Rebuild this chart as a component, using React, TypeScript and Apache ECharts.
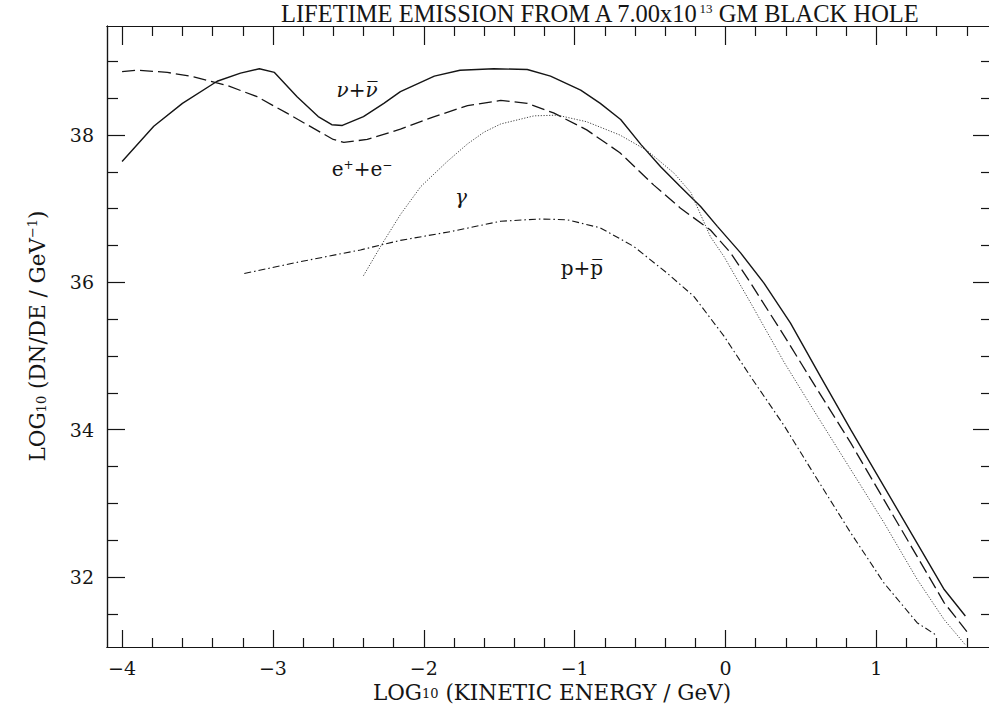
import React, { useEffect, useRef } from "react";
import * as echarts from "echarts";

// ---- axis ranges and ticks ----
const xMin = -4.1;
const xMax = 1.76;
const yMin = 31.05;
const yMax = 39.48;
const xMajorTicks = [-4, -3, -2, -1, 0, 1];
const xMinorTicks = [-3.8, -3.6, -3.4, -3.2, -2.8, -2.6, -2.4, -2.2, -1.8, -1.6, -1.4, -1.2, -0.8, -0.6, -0.4, -0.2, 0.2, 0.4, 0.6, 0.8, 1.2, 1.4, 1.6];
const yMajorTicks = [32, 34, 36, 38];
const yMinorTicks = [31.5, 32.5, 33, 33.5, 34.5, 35, 35.5, 36.5, 37, 37.5, 38.5, 39];

// ---- series data: [log10 kinetic energy, log10 dN/dE] ----
const neutrinoX = [-4.0, -3.79, -3.6, -3.37, -3.215, -3.09, -2.99, -2.84, -2.7, -2.61, -2.54, -2.4, -2.265, -2.155, -1.93, -1.76, -1.536, -1.314, -1.16, -0.96, -0.83, -0.695, -0.56, -0.43, -0.3, -0.165, -0.054, 0.1, 0.255, 0.43, 0.63, 0.83, 1.05, 1.27, 1.45, 1.59];
const neutrinoY = [37.64, 38.12, 38.43, 38.73, 38.84, 38.9, 38.85, 38.52, 38.25, 38.14, 38.13, 38.25, 38.43, 38.59, 38.8, 38.88, 38.9, 38.89, 38.8, 38.61, 38.43, 38.21, 37.87, 37.57, 37.3, 37.03, 36.76, 36.4, 35.99, 35.45, 34.72, 34.0, 33.23, 32.46, 31.83, 31.47];

const electronX = [-4.0, -3.9, -3.7, -3.525, -3.3, -3.105, -2.91, -2.73, -2.6, -2.53, -2.375, -2.155, -1.93, -1.71, -1.49, -1.314, -1.14, -0.92, -0.7, -0.475, -0.3, -0.1, 0.034, 0.167, 0.39, 0.61, 0.83, 1.05, 1.27, 1.45, 1.6];
const electronY = [38.86, 38.88, 38.85, 38.79, 38.67, 38.52, 38.3, 38.09, 37.94, 37.9, 37.94, 38.08, 38.25, 38.4, 38.47, 38.43, 38.3, 38.07, 37.76, 37.32, 37.01, 36.71, 36.4, 35.99, 35.27, 34.54, 33.82, 33.05, 32.28, 31.65, 31.26];

const photonX = [-2.4, -2.28, -2.155, -2.02, -1.845, -1.71, -1.6, -1.49, -1.27, -1.115, -0.92, -0.7, -0.52, -0.34, -0.23, -0.1, -0.01, 0.167, 0.39, 0.61, 0.83, 1.05, 1.27, 1.45, 1.59];
const photonY = [36.09, 36.51, 36.92, 37.3, 37.64, 37.88, 38.04, 38.15, 38.26, 38.27, 38.18, 38.0, 37.79, 37.48, 37.22, 36.62, 36.35, 35.72, 34.91, 34.18, 33.46, 32.74, 31.97, 31.42, 31.08];

const protonX = [-3.19, -2.82, -2.42, -2.155, -1.82, -1.49, -1.226, -1.05, -0.83, -0.61, -0.39, -0.21, -0.01, 0.167, 0.39, 0.61, 0.83, 1.05, 1.27, 1.39];
const protonY = [36.12, 36.28, 36.44, 36.57, 36.69, 36.83, 36.86, 36.85, 36.74, 36.49, 36.13, 35.81, 35.27, 34.72, 34.05, 33.32, 32.6, 31.92, 31.38, 31.22];

const zip = (xs: number[], ys: number[]) => xs.map((x, i) => [x, ys[i]]);

const INK = "#151515";
const SERIF = "DejaVu Serif";
const fmt = (v: number) => String(v).replace("-", "\u2212");

function xAxisDef(position: "top" | "bottom", ticks: number[], len: number, labels: boolean) {
  return {
    type: "value",
    min: xMin,
    max: xMax,
    position,
    offset: 0,
    axisLine: { show: true, onZero: false, lineStyle: { color: INK, width: 1.2 } },
    axisTick: { show: true, inside: true, length: len, customValues: ticks, lineStyle: { color: INK, width: 1.2 } },
    axisLabel: labels
      ? { show: true, customValues: ticks, formatter: fmt, margin: 14, lineHeight: 14, fontFamily: SERIF, fontSize: 19, color: INK }
      : { show: false },
    splitLine: { show: false },
  };
}

function yAxisDef(position: "left" | "right", ticks: number[], len: number, labels: boolean) {
  return {
    type: "value",
    min: yMin,
    max: yMax,
    position,
    offset: 0,
    axisLine: { show: true, onZero: false, lineStyle: { color: INK, width: 1.2 } },
    axisTick: { show: true, inside: true, length: len, customValues: ticks, lineStyle: { color: INK, width: 1.2 } },
    axisLabel: labels
      ? { show: true, customValues: ticks, formatter: fmt, margin: 13, lineHeight: 16, fontFamily: SERIF, fontSize: 19, color: INK }
      : { show: false },
    splitLine: { show: false },
  };
}

export default function App() {
  const ref = useRef<HTMLDivElement>(null);
  useEffect(() => {
    if (!ref.current) return;
    const chart = echarts.init(ref.current, null, { renderer: "svg" });
    const lineBase = { type: "line", xAxisIndex: 0, yAxisIndex: 0, showSymbol: false, symbol: "none", smooth: false, silent: true };
    chart.setOption({
      animation: false,
      backgroundColor: "#ffffff",
      grid: { left: 107, top: 26, width: 884, height: 621, outerBoundsMode: "none" },
      xAxis: [
        xAxisDef("bottom", xMajorTicks, 17, true),
        xAxisDef("bottom", xMinorTicks, 9, false),
        xAxisDef("top", xMajorTicks, 19, false),
        xAxisDef("top", xMinorTicks, 10, false),
      ],
      yAxis: [
        yAxisDef("left", yMajorTicks, 18, true),
        yAxisDef("left", yMinorTicks, 11, false),
        yAxisDef("right", yMajorTicks, 18, false),
        yAxisDef("right", yMinorTicks, 10, false),
      ],
      series: [
        { ...lineBase, name: "nu", data: zip(neutrinoX, neutrinoY), lineStyle: { color: INK, width: 1.4, type: "solid" } },
        { ...lineBase, name: "e", data: zip(electronX, electronY), lineStyle: { color: INK, width: 1.3, type: [13, 5] } },
        { ...lineBase, name: "gamma", data: zip(photonX, photonY), lineStyle: { color: "#444", width: 1, type: [1.2, 1.6] } },
        { ...lineBase, name: "p", data: zip(protonX, protonY), lineStyle: { color: INK, width: 1.1, type: [7, 3, 1.5, 3] } },
      ],
      graphic: [
        {
          type: "text",
          x: 281,
          y: 24,
          style: {
            text: "LIFETIME EMISSION FROM A 7.00x10{sup|13} GM BLACK HOLE",
            fontFamily: "Liberation Serif",
            fontSize: 24.5,
            lineHeight: 22,
            fill: INK,
            textVerticalAlign: "bottom",
            rich: { sup: { fontSize: 13, lineHeight: 22, fontFamily: "Liberation Serif", verticalAlign: "top", fill: INK } },
          },
        },
        {
          type: "text",
          x: 552,
          y: 692,
          style: {
            text: "LOG{sub|10} (KINETIC ENERGY / GeV)",
            fontFamily: SERIF,
            fontSize: 21.5,
            lineHeight: 16,
            fill: INK,
            textAlign: "center",
            textVerticalAlign: "middle",
            rich: { sub: { fontSize: 13, lineHeight: 16, fontFamily: SERIF, verticalAlign: "bottom", fill: INK } },
          },
        },
        {
          type: "text",
          x: 37,
          y: 336,
          rotation: Math.PI / 2,
          style: {
            text: "LOG{sub|10} (DN/DE / GeV{sup|\u22121})",
            fontFamily: SERIF,
            fontSize: 21.5,
            fill: INK,
            textAlign: "center",
            textVerticalAlign: "middle",
            rich: {
              sub: { fontSize: 13, fontFamily: SERIF, verticalAlign: "bottom", fill: INK },
              sup: { fontSize: 13, fontFamily: SERIF, verticalAlign: "top", fill: INK },
            },
          },
        },
        {
          type: "text",
          x: 357,
          y: 90,
          style: { text: "\u03BD+\u03BD\u0305", fontFamily: SERIF, fontStyle: "italic", fontSize: 20, fill: INK, textAlign: "center", textVerticalAlign: "middle" },
        },
        {
          type: "text",
          x: 362,
          y: 169,
          style: {
            text: "e{sup|+}+e{sup|\u2212}",
            fontFamily: SERIF,
            fontSize: 20,
            fill: INK,
            textAlign: "center",
            textVerticalAlign: "middle",
            rich: { sup: { fontSize: 12, fontFamily: SERIF, verticalAlign: "top", fill: INK } },
          },
        },
        {
          type: "text",
          x: 461,
          y: 197,
          style: { text: "\u03B3", fontFamily: SERIF, fontStyle: "italic", fontSize: 20, fill: INK, textAlign: "center", textVerticalAlign: "middle" },
        },
        {
          type: "text",
          x: 582,
          y: 268,
          style: { text: "p+p\u0305", fontFamily: SERIF, fontSize: 20, fill: INK, textAlign: "center", textVerticalAlign: "middle" },
        },
      ],
    });
    return () => chart.dispose();
  }, []);
  return <div ref={ref} style={{ position: "absolute", left: 0, top: 0, width: 989, height: 707 }} />;
}
